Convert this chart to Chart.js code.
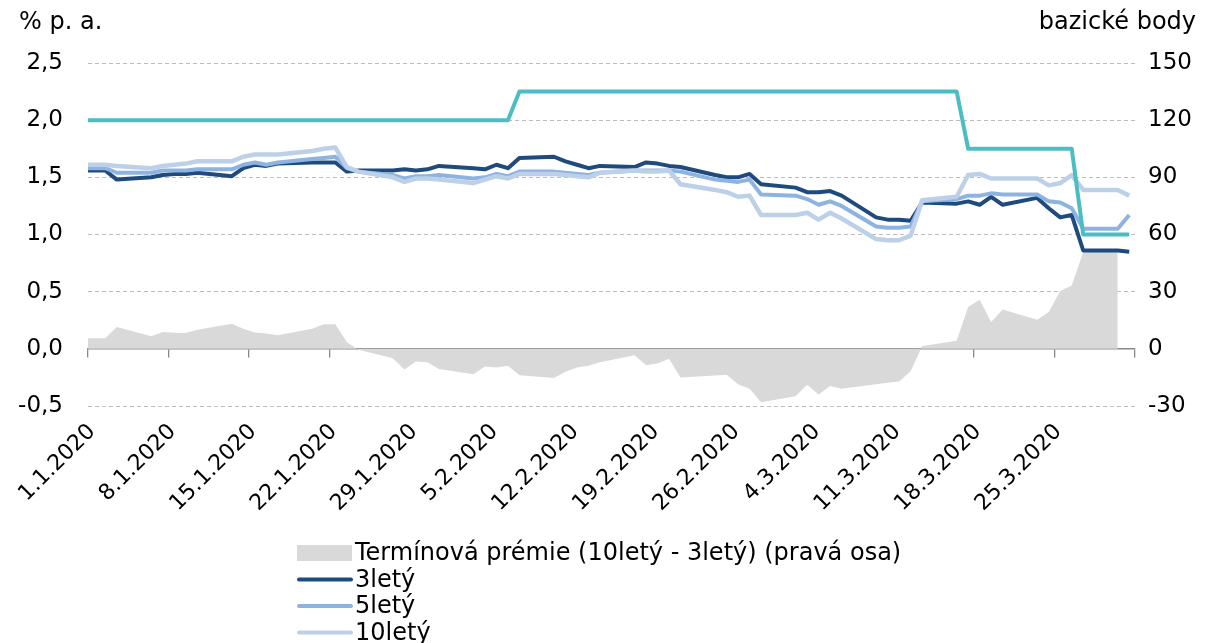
<!DOCTYPE html>
<html>
<head>
<meta charset="utf-8">
<script src="https://cdn.jsdelivr.net/npm/chart.js@4"></script>
<style>
  html, body { margin: 0; padding: 0; background: #fff; }
  #wrap { width: 1205px; height: 643px; position: relative; }
</style>
</head>
<body>
<div id="wrap"><canvas id="chart"></canvas></div>
<script>
// business days, 31.12.2019 - 31.3.2020
const dates = [
  '31.12.2019',
  '2.1.2020','3.1.2020','6.1.2020','7.1.2020','8.1.2020','9.1.2020','10.1.2020','13.1.2020','14.1.2020','15.1.2020','16.1.2020',
  '17.1.2020','20.1.2020','21.1.2020','22.1.2020','23.1.2020','24.1.2020','27.1.2020','28.1.2020','29.1.2020','30.1.2020','31.1.2020',
  '3.2.2020','4.2.2020','5.2.2020','6.2.2020','7.2.2020','10.2.2020','11.2.2020','12.2.2020','13.2.2020','14.2.2020',
  '17.2.2020','18.2.2020','19.2.2020','20.2.2020','21.2.2020','24.2.2020','25.2.2020','26.2.2020','27.2.2020','28.2.2020',
  '2.3.2020','3.3.2020','4.3.2020','5.3.2020','6.3.2020','9.3.2020','10.3.2020','11.3.2020','12.3.2020','13.3.2020',
  '16.3.2020','17.3.2020','18.3.2020','19.3.2020','20.3.2020','23.3.2020','24.3.2020','25.3.2020','26.3.2020','27.3.2020','30.3.2020','31.3.2020'
];

// % p. a.
const yield3y = [
  1.56,
  1.56, 1.48, 1.50, 1.52, 1.53, 1.53, 1.54, 1.51, 1.58, 1.61, 1.60,
  1.62, 1.63, 1.63, 1.63, 1.55, 1.56, 1.56, 1.57, 1.56, 1.57, 1.60,
  1.58, 1.57, 1.61, 1.58, 1.67, 1.68, 1.64, 1.61, 1.58, 1.60,
  1.59, 1.63, 1.62, 1.60, 1.59, 1.52, 1.50, 1.50, 1.53, 1.44,
  1.41, 1.37, 1.37, 1.38, 1.34, 1.15, 1.13, 1.13, 1.12, 1.28,
  1.27, 1.29, 1.26, 1.33, 1.26, 1.32, 1.23, 1.15, 1.17, 0.86, 0.86, 0.85
];
const yield5y = [
  1.58,
  1.58, 1.54, 1.54, 1.56, 1.56, 1.56, 1.57, 1.57, 1.61, 1.63, 1.61,
  1.63, 1.66, 1.67, 1.68, 1.58, 1.55, 1.52, 1.49, 1.51, 1.51, 1.52,
  1.49, 1.50, 1.53, 1.51, 1.55, 1.55, 1.54, 1.53, 1.52, 1.54,
  1.56, 1.56, 1.56, 1.56, 1.55, 1.48, 1.47, 1.46, 1.48, 1.35,
  1.34, 1.31, 1.26, 1.29, 1.25, 1.07, 1.06, 1.06, 1.07, 1.29,
  1.31, 1.34, 1.34, 1.36, 1.35, 1.35, 1.29, 1.28, 1.23, 1.05, 1.05, 1.17
];
const yield10y = [
  1.61,
  1.61, 1.60, 1.58, 1.60, 1.61, 1.62, 1.64, 1.64, 1.68, 1.70, 1.70,
  1.70, 1.73, 1.75, 1.76, 1.59, 1.55, 1.50, 1.46, 1.49, 1.49, 1.48,
  1.45, 1.48, 1.51, 1.49, 1.53, 1.53, 1.52, 1.51, 1.50, 1.54,
  1.56, 1.55, 1.55, 1.56, 1.44, 1.39, 1.37, 1.33, 1.34, 1.17,
  1.17, 1.19, 1.13, 1.19, 1.14, 0.96, 0.95, 0.95, 0.99, 1.30,
  1.33, 1.52, 1.53, 1.49, 1.49, 1.49, 1.43, 1.45, 1.52, 1.39, 1.39, 1.34
];
const repoRate = [
  2.00,
  2.00, 2.00, 2.00, 2.00, 2.00, 2.00, 2.00, 2.00, 2.00, 2.00, 2.00,
  2.00, 2.00, 2.00, 2.00, 2.00, 2.00, 2.00, 2.00, 2.00, 2.00, 2.00,
  2.00, 2.00, 2.00, 2.00, 2.25, 2.25, 2.25, 2.25, 2.25, 2.25,
  2.25, 2.25, 2.25, 2.25, 2.25, 2.25, 2.25, 2.25, 2.25, 2.25,
  2.25, 2.25, 2.25, 2.25, 2.25, 2.25, 2.25, 2.25, 2.25, 2.25,
  2.25, 1.75, 1.75, 1.75, 1.75, 1.75, 1.75, 1.75, 1.75, 1.00, 1.00, 1.00
];
// bazické body (pravá osa)
const termPremium = [
  5.5,
  5.5, 11.4, 6.6, 8.8, 8.5, 8.3, 10.0, 13.2, 10.5, 8.6, 8.0,
  7.1, 10.6, 12.9, 12.9, 3.5, -0.5, -5.0, -10.8, -6.6, -7.1, -10.6,
  -13.4, -9.3, -9.8, -8.9, -13.8, -15.3, -12.0, -9.8, -8.9, -7.1,
  -3.4, -8.6, -7.7, -5.2, -15.0, -14.0, -13.6, -18.6, -20.9, -28.0,
  -24.9, -18.9, -24.0, -19.5, -21.0, -18.6, -17.8, -17.1, -11.8, 1.5,
  4.3, 21.9, 25.8, 14.1, 20.6, 15.3, 19.3, 30.3, 33.3, 50.8, 50.8, null
];

const leftTicks = { min: -0.5, max: 2.5, step: 0.5 };
const rightTicks = { min: -30, max: 150, step: 30 };
const axisDays = { min: 0, max: 91, step: 7 };

const DAY = 86400000;
const start = Date.UTC(2020, 0, 1);
function dayPos(s) {
  const [d, m, y] = s.split('.').map(Number);
  return (Date.UTC(y, m - 1, d) - start) / DAY + 0.5;
}
function dayLabel(v) {
  const dt = new Date(start + v * DAY);
  return dt.getUTCDate() + '.' + (dt.getUTCMonth() + 1) + '.' + dt.getUTCFullYear();
}
const xs = dates.map(dayPos);
const pts = arr => arr.map((v, i) => ({ x: xs[i], y: v }));
const comma = v => v.toFixed(1).replace('.', ',');

const FONT = '"DejaVu Sans", Verdana, sans-serif';
Chart.defaults.font.family = FONT;
Chart.defaults.font.size = 23;
Chart.defaults.color = '#000';

const notes = {
  id: 'notes',
  afterDraw(chart) {
    const ctx = chart.ctx;
    ctx.save();
    ctx.font = '24px ' + FONT;
    ctx.fillStyle = '#000';
    ctx.textBaseline = 'middle';
    ctx.textAlign = 'left';
    ctx.fillText('% p. a.', 19, 23);
    ctx.textAlign = 'right';
    ctx.fillText('bazické body', 1196, 23);
    ctx.textAlign = 'left';
    let y = 553;
    chart.data.datasets.forEach(ds => {
      if (!ds.inLegend) return;
      if (ds.fill) {
        ctx.fillStyle = ds.backgroundColor;
        ctx.fillRect(297, y - 8, 55, 16);
      } else {
        ctx.strokeStyle = ds.borderColor;
        ctx.lineWidth = 4;
        ctx.lineCap = 'round';
        ctx.beginPath();
        ctx.moveTo(299, y);
        ctx.lineTo(351, y);
        ctx.stroke();
      }
      ctx.fillStyle = '#000';
      ctx.fillText(ds.label, 355, y + 1);
      y += 26.5;
    });
    ctx.restore();
  }
};

new Chart(document.getElementById('chart'), {
  type: 'line',
  data: {
    datasets: [
      {
        label: 'Termínová prémie (10letý - 3letý) (pravá osa)',
        data: pts(termPremium), yAxisID: 'y2', order: 4,
        fill: 'origin', backgroundColor: '#d9d9d9', borderWidth: 0, pointRadius: 0, inLegend: true
      },
      {
        label: '3letý', data: pts(yield3y), yAxisID: 'y', order: 3,
        borderColor: '#1f4a7e', borderWidth: 4, pointRadius: 0, fill: false, inLegend: true
      },
      {
        label: '5letý', data: pts(yield5y), yAxisID: 'y', order: 2,
        borderColor: '#8db3e2', borderWidth: 4, pointRadius: 0, fill: false, inLegend: true
      },
      {
        label: '10letý', data: pts(yield10y), yAxisID: 'y', order: 1,
        borderColor: '#bcd0e8', borderWidth: 4.5, pointRadius: 0, fill: false, inLegend: true
      },
      {
        label: '2T repo sazba ČNB', data: pts(repoRate), yAxisID: 'y', order: 0,
        borderColor: '#4cbec3', borderWidth: 4, pointRadius: 0, fill: false, inLegend: false
      }
    ]
  },
  options: {
    responsive: true,
    maintainAspectRatio: false,
    animation: false,
    clip: 0,
    layout: { padding: { top: 63, left: 0, right: 0, bottom: 110 } },
    plugins: { legend: { display: false }, tooltip: { enabled: false } },
    elements: { line: { tension: 0, borderJoinStyle: 'round' } },
    scales: {
      x: {
        type: 'linear', position: 'bottom',
        min: axisDays.min, max: axisDays.max,
        grid: { display: false, drawTicks: false },
        border: { display: false },
        ticks: {
          stepSize: axisDays.step, autoSkip: false, minRotation: 45, maxRotation: 45, padding: 13,
          labelOffset: 4, font: { size: 22 },
          callback: v => v === axisDays.max ? '' : dayLabel(v)
        },
        afterFit: s => { s.height = 127; }
      },
      x0: {
        type: 'linear', position: { y: 0 },
        min: axisDays.min, max: axisDays.max,
        grid: { drawOnChartArea: false, drawTicks: true, tickLength: 8, color: '#898989', lineWidth: 1.3 },
        border: { display: true, color: '#898989', width: 1.5 },
        ticks: { stepSize: axisDays.step, display: false }
      },
      y: {
        position: 'left',
        min: leftTicks.min, max: leftTicks.max,
        grid: {
          drawTicks: false, lineWidth: 1,
          color: c => c.tick && c.tick.value === 0 ? 'rgba(0,0,0,0)' : '#bdbdbd'
        },
        border: { display: false, dash: [4, 3] },
        ticks: { stepSize: leftTicks.step, padding: 25, callback: v => comma(v) },
        afterFit: s => { s.width = 88; }
      },
      y2: {
        position: 'right',
        min: rightTicks.min, max: rightTicks.max,
        grid: { drawOnChartArea: false, drawTicks: false },
        border: { display: false },
        ticks: { stepSize: rightTicks.step, padding: 13, callback: v => String(v) },
        afterFit: s => { s.width = 70; }
      }
    }
  },
  plugins: [notes]
});
</script>
</body>
</html>
